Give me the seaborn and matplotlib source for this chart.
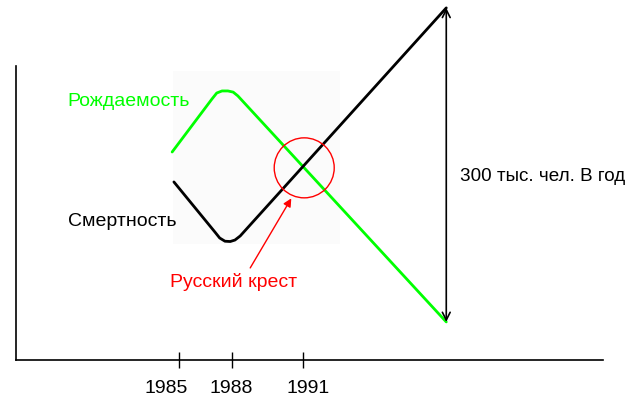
import matplotlib
matplotlib.use("Agg")
import matplotlib.pyplot as plt
from matplotlib.patches import Rectangle
import seaborn as sns
import pandas as pd

# schematic units: x 0..100 across the axis, y 0..100 up the axis
birth_x = [26.6, 33.4, 34.2, 35.1, 36.1, 37.0, 37.8, 73.3]
birth_y = [70.7, 88.8, 90.8, 91.5, 91.5, 91.1, 89.8, 12.8]
death_x = [26.9, 33.9, 34.7, 35.6, 36.5, 37.3, 38.2, 73.3]
death_y = [60.5, 43.4, 41.4, 40.3, 40.2, 40.7, 42.1, 119.8]

tick_pos = [27.7, 36.8, 48.9]
# the year labels sit a little off their tick marks in the original
label_pos = [25.6, 36.7, 49.8]
tick_labels = ["1985", "1988", "1991"]

cross_pt = (49.1, 65.3)
cross_arrow_tail = (39.9, 31.2)
cross_arrow_head = (46.9, 54.9)
gap_x = 73.3
gap_low, gap_high = 12.8, 119.8

sns.set_style("white")
plt.rcParams['font.family'] = ['Liberation Sans', 'DejaVu Sans']
FS = 14

fig = plt.figure(figsize=(6.31, 3.97), dpi=100)
ax = fig.add_axes([16/631, 37.5/397, 587/631, 293.5/397])
ax.set_xlim(0, 100)
ax.set_ylim(0, 100)

# faint background of the pasted picture
ax.add_patch(Rectangle((26.7, 39.4), 28.5, 59.0, facecolor="#fbfbfb",
	edgecolor="none", zorder=0))

birth = pd.DataFrame({"x": birth_x, "y": birth_y})
death = pd.DataFrame({"x": death_x, "y": death_y})
sns.lineplot(x="x", y="y", data=birth, color="#00ff00", linewidth=2,
	ax=ax, sort=False, clip_on=False)
sns.lineplot(x="x", y="y", data=death, color="black", linewidth=2,
	ax=ax, sort=False, clip_on=False)

ax.scatter([cross_pt[0]], [cross_pt[1]], s=(60*0.72)**2, facecolors="none",
	edgecolors="red", linewidths=1, zorder=5)
ax.annotate("", xy=cross_arrow_head, xytext=cross_arrow_tail,
	arrowprops=dict(arrowstyle="-|>", color="red", lw=1, mutation_scale=12,
		shrinkA=0, shrinkB=0))
ax.annotate("", xy=(gap_x, gap_high), xytext=(gap_x, gap_low),
	arrowprops=dict(arrowstyle="<->", color="black", lw=1.2, mutation_scale=14,
		shrinkA=0, shrinkB=0), annotation_clip=False)

ax.text(8.7, 88.0, "Рождаемость", color="#00ff00", fontsize=FS, va="center")
ax.text(8.9, 47.0, "Смертность", color="black", fontsize=FS, va="center")
ax.text(37.1, 26.4, "Русский крест", color="red", fontsize=FS,
	va="center", ha="center")
ax.text(75.6, 62.5, "300 тыс. чел. В год", color="black", fontsize=13.6,
	va="center")

ax.set_xticks(tick_pos)
ax.set_xticklabels([""] * len(tick_pos))
ax.set_xticks(label_pos, minor=True)
ax.set_xticklabels(tick_labels, minor=True, fontsize=FS)
ax.set_yticks([])
ax.tick_params(axis="x", which="major", direction="inout", length=12,
	width=1, bottom=True, colors="black")
ax.tick_params(axis="x", which="minor", length=0, pad=15, bottom=True,
	colors="black")
for s in ["top", "right"]:
	ax.spines[s].set_visible(False)
for s in ["left", "bottom"]:
	ax.spines[s].set_color("black")
	ax.spines[s].set_linewidth(1.2)
ax.set_xlabel(None)
ax.set_ylabel(None)

fig.savefig("out.png", dpi=100)
